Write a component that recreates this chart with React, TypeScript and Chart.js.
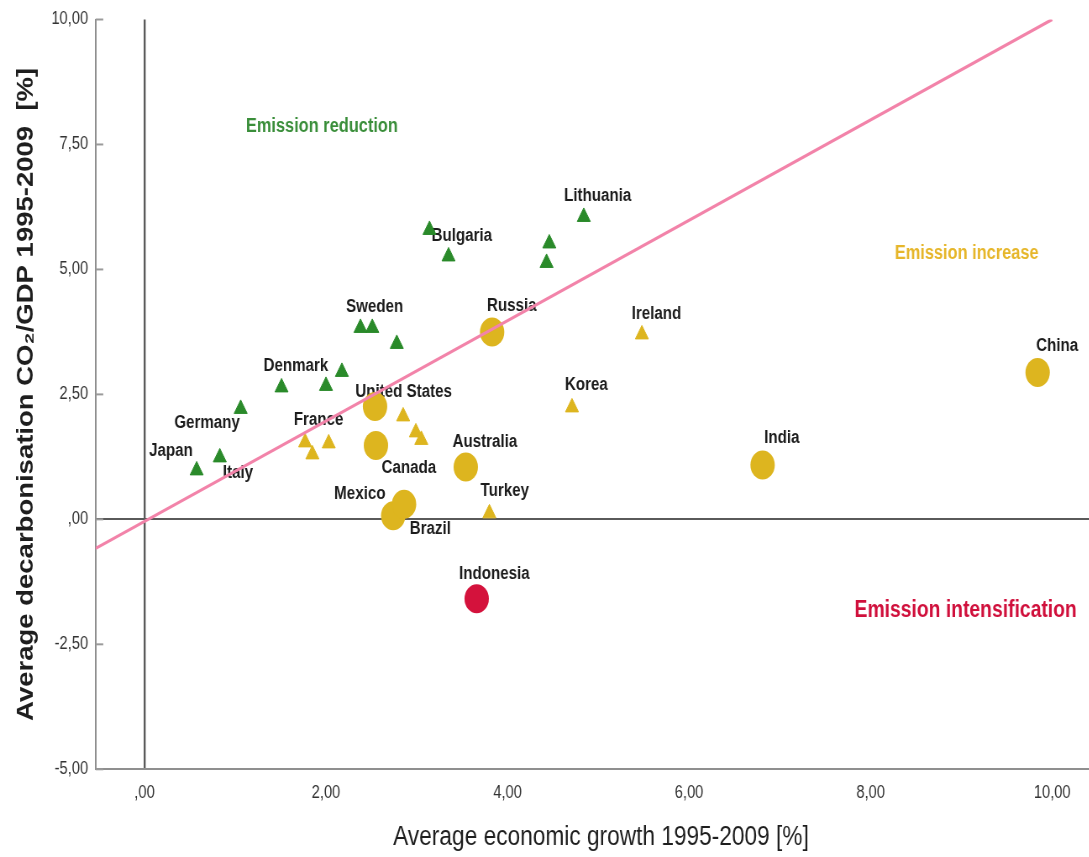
import { useEffect, useRef } from 'react';
import { Chart, registerables } from 'chart.js';

Chart.register(...registerables);

// ---------------- data ----------------
// Emission reduction (green triangles)
const reductionX = [0.575, 0.83, 1.06, 1.51, 2.0, 2.175, 2.38, 2.51, 2.78, 3.14, 3.35, 4.46, 4.43, 4.84];
const reductionY = [0.98, 1.24, 2.21, 2.64, 2.67, 2.95, 3.83, 3.83, 3.51, 5.79, 5.26, 5.52, 5.13, 6.05];

// Emission increase, small economies (yellow triangles)
const increaseTriX = [1.77, 1.85, 2.03, 2.85, 2.99, 3.05, 3.80, 4.71, 5.48];
const increaseTriY = [1.54, 1.30, 1.52, 2.06, 1.74, 1.59, 0.12, 2.24, 3.70];

// Emission increase, large economies (yellow circles)
const increaseDotX = [2.54, 2.55, 3.54, 2.74, 2.86, 3.83, 6.81, 9.84];
const increaseDotY = [2.26, 1.48, 1.05, 0.07, 0.30, 3.75, 1.09, 2.94];

// Emission intensification (red circle)
const intensX = [3.66];
const intensY = [-1.59];

// Fit line (y = x)
const fitX = [-0.537, 10.0];
const fitY = [-0.58, 10.0];

// Country labels (data-space anchors)
const countryNames = ['Japan', 'Italy', 'Germany', 'Denmark', 'Sweden', 'France', 'United States', 'Canada', 'Australia', 'Mexico', 'Brazil', 'Turkey', 'Russia', 'Bulgaria', 'Lithuania', 'Ireland', 'Korea', 'India', 'China', 'Indonesia'];
const countryLabelX = [0.292, 1.03, 0.689, 1.669, 2.535, 1.918, 2.856, 2.913, 3.75, 2.373, 3.15, 3.97, 4.047, 3.497, 4.994, 5.641, 4.868, 7.021, 10.055, 3.855];
const countryLabelY = [1.359, 0.928, 1.923, 3.065, 4.246, 1.99, 2.554, 1.027, 1.539, 0.51, -0.193, 0.563, 4.26, 5.673, 6.469, 4.1, 2.687, 1.624, 3.463, -1.089];

// Quadrant labels
const zoneNames = ['Emission reduction', 'Emission increase', 'Emission intensification'];
const zoneX = [1.955, 9.058, 9.047];
const zoneY = [7.85, 5.32, -1.82];

// Axes
const xTickValues = [0, 2, 4, 6, 8, 10];
const xTickLabels = [',00', '2,00', '4,00', '6,00', '8,00', '10,00'];
const yTickValues = [-5, -2.5, 0, 2.5, 5, 7.5, 10];
const yTickLabels = ['-5,00', '-2,50', ',00', '2,50', '5,00', '7,50', '10,00'];
const X_MIN = -0.537;
const X_MAX = 10.402;
const Y_MIN = -5;
const Y_MAX = 10;
const xTitle = 'Average economic growth 1995-2009 [%]';
const yTitle = 'Average decarbonisation CO\u2082/GDP 1995-2009  [%]';

// ---------------- style / layout ----------------
const SQUEEZE = 0.84;
const OUT_W = 1089;
const OUT_H = 857;
const CW = Math.round(OUT_W / SQUEEZE);
const FONT = "'Liberation Sans', Arial, Helvetica, sans-serif";
const GREEN = '#2a8a2a';
const GOLD = '#ddb51f';
const RED = '#d4123c';
const ZONE_COLORS = ['#3a8e3a', '#e6b62a', '#d0103c'];
const ZONE_SIZES = [19.5, 19.5, 23];
const X_TITLE_CENTER = 601 / SQUEEZE;
const X_TITLE_MIDDLE = 838;

const toPts = (xs: number[], ys: number[]) => xs.map((x, i) => ({ x, y: ys[i] }));

const annotate = {
  id: 'annotate',
  beforeDatasetsDraw(chart: any) {
    const { ctx, chartArea } = chart;
    const xs = chart.scales.x;
    const ys = chart.scales.y;
    ctx.save();
    // inward ticks on y axis
    ctx.strokeStyle = '#9a9a9a';
    ctx.lineWidth = 2;
    yTickValues.forEach((v) => {
      const py = ys.getPixelForValue(v);
      ctx.beginPath();
      ctx.moveTo(chartArea.left, py);
      ctx.lineTo(chartArea.left + 9, py);
      ctx.stroke();
    });
    ctx.textAlign = 'center';
    ctx.textBaseline = 'middle';
    // quadrant labels
    zoneNames.forEach((t, i) => {
      ctx.font = `bold ${ZONE_SIZES[i]}px ${FONT}`;
      ctx.fillStyle = ZONE_COLORS[i];
      ctx.fillText(t, xs.getPixelForValue(zoneX[i]), ys.getPixelForValue(zoneY[i]));
    });
    // country labels
    ctx.font = `bold 18px ${FONT}`;
    ctx.fillStyle = '#1c1c1c';
    countryNames.forEach((t, i) => {
      ctx.fillText(t, xs.getPixelForValue(countryLabelX[i]), ys.getPixelForValue(countryLabelY[i]));
    });
    ctx.restore();
  },
  afterDraw(chart: any) {
    const { ctx } = chart;
    ctx.save();
    ctx.font = `27px ${FONT}`;
    ctx.fillStyle = '#1e1e1e';
    ctx.textAlign = 'center';
    ctx.textBaseline = 'middle';
    ctx.fillText(xTitle, X_TITLE_CENTER, X_TITLE_MIDDLE);
    ctx.restore();
  },
};

export default function App() {
  const ref = useRef<HTMLCanvasElement>(null);

  useEffect(() => {
    const canvas = ref.current;
    if (!canvas) return;
    Chart.defaults.font.family = FONT;
    const chart = new Chart(canvas, {
      type: 'scatter',
      data: {
        datasets: [
          {
            label: 'Fit',
            data: toPts(fitX, fitY),
            showLine: true,
            borderColor: '#f283a9',
            borderWidth: 3.2,
            pointRadius: 0,
            fill: false,
            order: 0,
          } as any,
          {
            label: 'Emission reduction',
            data: toPts(reductionX, reductionY),
            pointStyle: 'triangle',
            pointRadius: 9,
            backgroundColor: GREEN,
            borderColor: GREEN,
            borderWidth: 1,
            order: 1,
          },
          {
            label: 'Emission increase (small)',
            data: toPts(increaseTriX, increaseTriY),
            pointStyle: 'triangle',
            pointRadius: 9,
            backgroundColor: GOLD,
            borderColor: GOLD,
            borderWidth: 1,
            order: 1,
          },
          {
            label: 'Emission increase (large)',
            data: toPts(increaseDotX, increaseDotY),
            pointStyle: 'circle',
            pointRadius: 14.5,
            backgroundColor: GOLD,
            borderColor: GOLD,
            borderWidth: 0,
            order: 1,
          },
          {
            label: 'Emission intensification',
            data: toPts(intensX, intensY),
            pointStyle: 'circle',
            pointRadius: 14.5,
            backgroundColor: RED,
            borderColor: RED,
            borderWidth: 0,
            order: 1,
          },
        ],
      },
      options: {
        responsive: false,
        devicePixelRatio: 1,
        animation: false,
        events: [],
        layout: { autoPadding: false, padding: { top: 15.7, right: 0, bottom: 0, left: 0 } },
        plugins: {
          legend: { display: false },
          tooltip: { enabled: false },
        },
        scales: {
          x: {
            type: 'linear',
            min: X_MIN,
            max: X_MAX,
            afterBuildTicks: (s: any) => {
              s.ticks = xTickValues.map((v) => ({ value: v }));
            },
            afterFit: (s: any) => {
              s.height = OUT_H - 769.3;
              s.paddingLeft = 0;
              s.paddingRight = 0;
            },
            ticks: {
              autoSkip: false,
              maxRotation: 0,
              padding: 13,
              color: '#333333',
              font: { size: 17.5 },
              callback: (v: any) => xTickLabels[xTickValues.indexOf(Number(v))] ?? '',
            },
            grid: {
              drawTicks: false,
              color: (c: any) => (c.tick && c.tick.value === 0 ? '#5a5a5a' : 'rgba(0,0,0,0)'),
              lineWidth: 2.4,
            },
            border: { display: true, color: '#8f8f8f', width: 2 },
            title: { display: false },
          },
          y: {
            type: 'linear',
            min: Y_MIN,
            max: Y_MAX,
            afterBuildTicks: (s: any) => {
              s.ticks = yTickValues.map((v) => ({ value: v }));
            },
            afterFit: (s: any) => {
              s.width = 95.7 / SQUEEZE;
            },
            ticks: {
              autoSkip: false,
              padding: 9,
              color: '#333333',
              font: { size: 17.5 },
              callback: (v: any) => yTickLabels[yTickValues.indexOf(Number(v))] ?? '',
            },
            grid: {
              drawTicks: false,
              color: (c: any) => (c.tick && c.tick.value === 0 ? '#5a5a5a' : 'rgba(0,0,0,0)'),
              lineWidth: 2,
            },
            border: { display: true, color: '#8f8f8f', width: 2 },
            title: {
              display: true,
              text: yTitle,
              color: '#1e1e1e',
              font: { size: 27.5, weight: 'bold' },
              padding: { top: 14.5, bottom: 0 },
            },
          },
        },
      },
      plugins: [annotate],
    } as any);
    return () => chart.destroy();
  }, []);

  return (
    <div
      style={{
        position: 'fixed',
        left: 0,
        top: 0,
        width: OUT_W,
        height: OUT_H,
        overflow: 'hidden',
        background: '#ffffff',
      }}
    >
      <canvas
        ref={ref}
        width={CW}
        height={OUT_H}
        style={{
          display: 'block',
          width: `${CW}px`,
          height: `${OUT_H}px`,
          transform: `scaleX(${SQUEEZE})`,
          transformOrigin: '0 0',
        }}
      />
    </div>
  );
}
